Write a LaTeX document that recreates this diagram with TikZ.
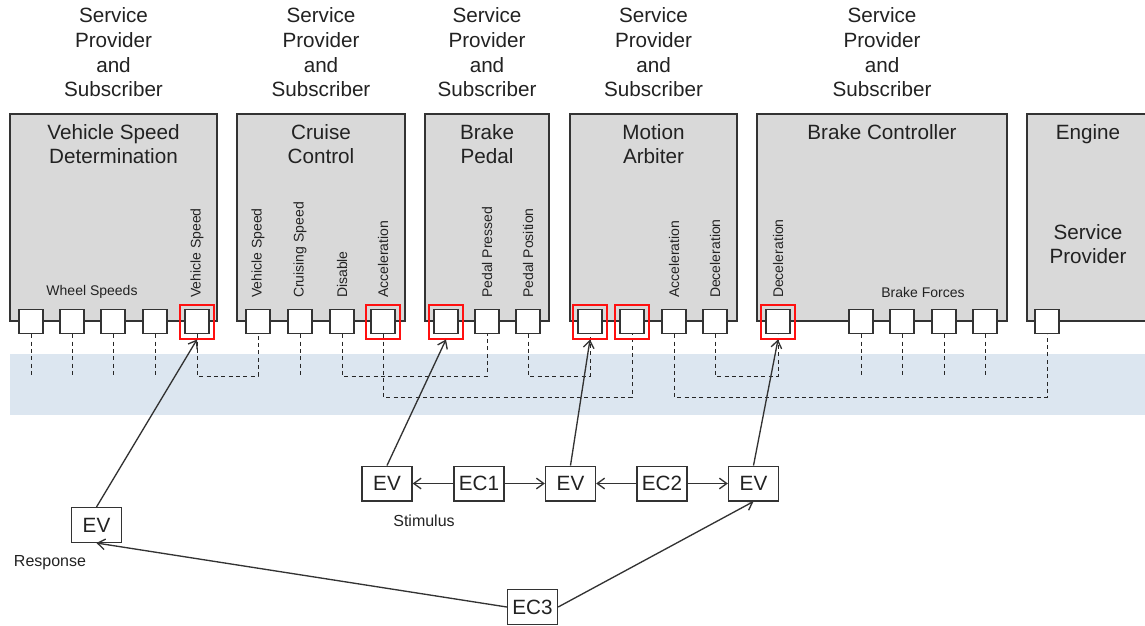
\documentclass[tikz,border=0pt]{standalone}
\usepackage{fontspec}
\setmainfont{Liberation Sans}
\usetikzlibrary{arrows.meta, positioning, fit}
\definecolor{unitGray}{HTML}{D9D9D9}
\definecolor{lineGray}{HTML}{333333}
\definecolor{textGray}{HTML}{222222}
\definecolor{busBlue}{HTML}{DCE6F0}
\definecolor{selRed}{HTML}{FF1010}

\begin{document}
\begin{tikzpicture}[x=0.75pt, y=-0.75pt,
    unit/.style={rectangle, draw=lineGray, line width=1pt, fill=unitGray, inner sep=0pt},
    unittitle/.style={anchor=north, align=center, inner sep=0pt, text=textGray,
                      font=\fontsize{15.5}{18.5}\selectfont},
    roletext/.style={anchor=south, align=center, inner sep=0pt, text=textGray,
                     font=\fontsize{15.5}{18.5}\selectfont},
    port/.style={rectangle, draw=lineGray, line width=1pt, fill=white, minimum size=18pt, inner sep=0pt},
    sel/.style={rectangle, draw=selRed, line width=1.5pt, minimum size=25.5pt, inner sep=0pt},
    plabel/.style={rotate=90, anchor=west, inner sep=0pt, text=textGray, font=\fontsize{10.5}{12}\selectfont},
    glabel/.style={inner sep=0pt, text=textGray, font=\fontsize{10.5}{12}\selectfont},
    evbox/.style={rectangle, draw=lineGray, line width=1pt, fill=white, minimum width=37.5pt,
                  minimum height=26pt, inner sep=0pt, text=textGray, font=\fontsize{15.5}{18}\selectfont},
    bus/.style={dash pattern=on 3pt off 2.5pt, line width=0.75pt, black!85},
    arrow/.style={-{Straight Barb[length=5.5pt, width=8pt]}, line width=1pt, lineGray},
]
\clip (0,0) rectangle (1145,625);
\fill[busBlue] (10,354) rectangle (1160,415);

\node[unit, fit={(10,114) (217,321)}] (vsd) {};
\node[unit, fit={(237,114) (405,321)}] (cc) {};
\node[unit, fit={(425,114) (549,321)}] (bp) {};
\node[unit, fit={(570,114) (737,321)}] (ma) {};
\node[unit, fit={(757,114) (1007,321)}] (bc) {};
\node[unit, fit={(1027,114) (1149,321)}] (eng) {};

\node[unittitle] (vsdT) at ([yshift=-8pt]vsd.north) {Vehicle Speed\\Determination};
\node[unittitle] (ccT) at ([yshift=-8pt]cc.north) {Cruise\\Control};
\node[unittitle] (bpT) at ([yshift=-8pt]bp.north) {Brake\\Pedal};
\node[unittitle] (maT) at ([yshift=-8pt]ma.north) {Motion\\Arbiter};
\node[unittitle] (bcT) at ([yshift=-8pt]bc.north) {Brake Controller};
\node[unittitle] (engT) at ([yshift=-8pt]1088,114) {Engine};
\node[unittitle, anchor=center] (engR) at (1088,244) {Service\\Provider};

\node[roletext] (vsdR) at ([yshift=12pt]vsd.north) {Service\\Provider\\and\\Subscriber};
\node[roletext] (ccR) at ([yshift=12pt]cc.north) {Service\\Provider\\and\\Subscriber};
\node[roletext] (bpR) at ([yshift=12pt]bp.north) {Service\\Provider\\and\\Subscriber};
\node[roletext] (maR) at ([yshift=12pt]ma.north) {Service\\Provider\\and\\Subscriber};
\node[roletext] (bcR) at ([yshift=12pt]bc.north) {Service\\Provider\\and\\Subscriber};

\node[port] (vsd1) at (31,321.5) {};
\node[port] (vsd2) at (72,321.5) {};
\node[port] (vsd3) at (113,321.5) {};
\node[port] (vsd4) at (155,321.5) {};
\node[port] (vsd5) at (197,321.5) {};
\node[port] (cc1) at (258,321.5) {};
\node[port] (cc2) at (300,321.5) {};
\node[port] (cc3) at (342,321.5) {};
\node[port] (cc4) at (383,321.5) {};
\node[port] (bp1) at (446,321.5) {};
\node[port] (bp2) at (487,321.5) {};
\node[port] (bp3) at (528,321.5) {};
\node[port] (ma1) at (590,321.5) {};
\node[port] (ma2) at (632,321.5) {};
\node[port] (ma3) at (674,321.5) {};
\node[port] (ma4) at (715,321.5) {};
\node[port] (bc1) at (778,321.5) {};
\node[port] (bc2) at (861,321.5) {};
\node[port] (bc3) at (902,321.5) {};
\node[port] (bc4) at (944,321.5) {};
\node[port] (bc5) at (985,321.5) {};
\node[port] (eng1) at (1047,321.5) {};

\node[plabel] (vsd5L) at ([yshift=8pt]vsd5.north) {Vehicle Speed};
\node[plabel] (cc1L) at ([yshift=8pt]cc1.north) {Vehicle Speed};
\node[plabel] (cc2L) at ([yshift=8pt]cc2.north) {Cruising Speed};
\node[plabel] (cc3L) at ([yshift=8pt]cc3.north) {Disable};
\node[plabel] (cc4L) at ([yshift=8pt]cc4.north) {Acceleration};
\node[plabel] (bp2L) at ([yshift=8pt]bp2.north) {Pedal Pressed};
\node[plabel] (bp3L) at ([yshift=8pt]bp3.north) {Pedal Position};
\node[plabel] (ma3L) at ([yshift=8pt]ma3.north) {Acceleration};
\node[plabel] (ma4L) at ([yshift=8pt]ma4.north) {Deceleration};
\node[plabel] (bc1L) at ([yshift=8pt]bc1.north) {Deceleration};
\node[glabel] (wheelL) at (92,292) {Wheel Speeds};
\node[glabel] (forceL) at (923,292) {Brake Forces};

\coordinate (busA) at (0,376);
\coordinate (busB) at (0,397);
\draw[bus] (vsd1.south) -- (vsd1.south |- busA);
\draw[bus] (vsd2.south) -- (vsd2.south |- busA);
\draw[bus] (vsd3.south) -- (vsd3.south |- busA);
\draw[bus] (vsd4.south) -- (vsd4.south |- busA);
\draw[bus] (cc2.south) -- (cc2.south |- busA);
\draw[bus] (bc2.south) -- (bc2.south |- busA);
\draw[bus] (bc3.south) -- (bc3.south |- busA);
\draw[bus] (bc4.south) -- (bc4.south |- busA);
\draw[bus] (bc5.south) -- (bc5.south |- busA);
\draw[bus] (vsd5.south) |- (cc1.south |- busA) -- (cc1.south);
\draw[bus] (cc3.south) |- (bp2.south |- busA) -- (bp2.south);
\draw[bus] (bp3.south) |- (ma1.south |- busA) -- (ma1.south);
\draw[bus] (ma4.south) |- (bc1.south |- busA) -- (bc1.south);
\draw[bus] (cc4.south) |- (ma2.south |- busB) -- (ma2.south);
\draw[bus] (ma3.south) |- (eng1.south |- busB) -- (eng1.south);

\node[sel] (rvsd5) at (vsd5) {};
\node[sel] (rcc4) at (cc4) {};
\node[sel] (rbp1) at (bp1) {};
\node[sel] (rma1) at (ma1) {};
\node[sel] (rma2) at (ma2) {};
\node[sel] (rbc1) at (bc1) {};

\node[evbox] (evResp) at (96.5,525) {EV};
\node[evbox] (evStim) at (387,483.5) {EV};
\node[evbox] (ec1) at (479,483.5) {EC1};
\node[evbox] (evMid) at (570.5,483.5) {EV};
\node[evbox] (ec2) at (662,483.5) {EC2};
\node[evbox] (evEnd) at (753.5,483.5) {EV};
\node[evbox] (ec3) at (532.5,607) {EC3};
\node[glabel, font=\fontsize{12}{14}\selectfont] (stimL) at (424,521) {Stimulus};
\node[glabel, font=\fontsize{12}{14}\selectfont] (respL) at (50,563) {Response};

\draw[arrow] (evResp.north) -- (rvsd5.south);
\draw[arrow] (evStim.north) -- (rbp1.south);
\draw[arrow] (evMid.north) -- (rma1.south);
\draw[arrow] (evEnd.north) -- (rbc1.south);
\draw[arrow] (ec1) -- (evStim);
\draw[arrow] (ec1) -- (evMid);
\draw[arrow] (ec2) -- (evMid);
\draw[arrow] (ec2) -- (evEnd);
\draw[arrow] (ec3.west) -- (evResp.south);
\draw[arrow] (ec3.east) -- (evEnd.south);
\end{tikzpicture}
\end{document}
